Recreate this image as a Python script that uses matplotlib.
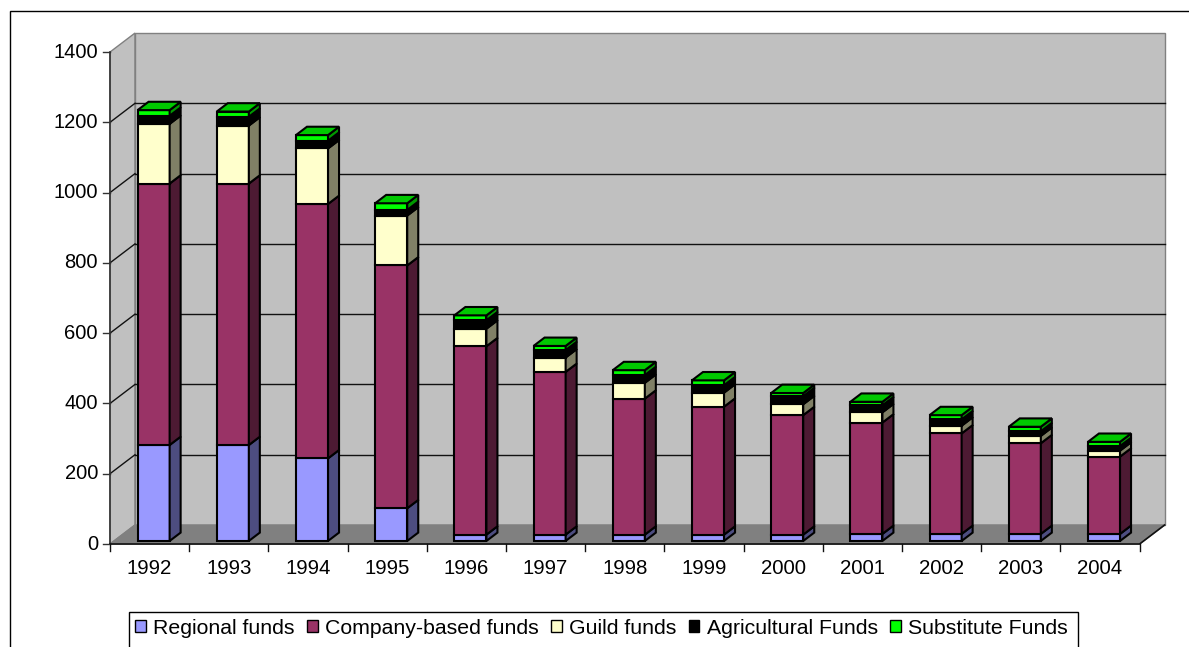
import numpy as np
import matplotlib.pyplot as plt
from matplotlib.patches import Patch, Rectangle

plt.rcParams['font.family'] = ['Liberation Sans', 'DejaVu Sans']

years = ['1992', '1993', '1994', '1995', '1996', '1997', '1998',
         '1999', '2000', '2001', '2002', '2003', '2004']
regional = [273, 273, 235, 93, 18, 18, 18, 18, 18, 20, 20, 20, 20]
company = [744, 744, 724, 691, 536, 463, 387, 364, 340, 317, 286, 258, 220]
guild = [170, 165, 158, 142, 50, 41, 45, 40, 31, 29, 22, 21, 17]
agricultural = [23, 25, 22, 16, 24, 21, 22, 21, 23, 20, 18, 13, 13]
substitute = [16, 15, 16, 19, 14, 12, 14, 14, 9, 10, 12, 13, 12]

series = [regional, company, guild, agricultural, substitute]
names = ['Regional funds', 'Company-based funds', 'Guild funds',
         'Agricultural Funds', 'Substitute Funds']
front_col = ['#9999FF', '#993366', '#FFFFCC', '#000000', '#00FF00']
side_col = ['#4D4D80', '#4D1A33', '#808066', '#000000', '#009900']
top_col = ['#7A7ACC', '#7A2952', '#CCCCA3', '#000000', '#00C800']

W, H = 1189, 647
fig = plt.figure(figsize=(W / 100, H / 100), dpi=100)
ax = fig.add_axes([0, 0, 1, 1])
ax.axis('off')

# pixel mapping: front axis at x=110, slot 79.2 px, y=0 at 544, 0.3514 px/unit
SX, SY = 79.2, 0.3514
ax.set_xlim(-110 / SX - 0.5, (W - 110) / SX - 0.5)
ax.set_ylim(-(H - 544) / SY, 544 / SY)

n = len(years)
DX, DY = 25 / SX, 19 / SY          # depth of the 3d box
YMAX = 1400
x0, x1 = -0.5, n - 0.5

# walls and floor
ax.fill([x0, x0 + DX, x0 + DX, x0], [0, DY, YMAX + DY, YMAX],
        color='#C0C0C0', ec='#808080', lw=1, zorder=0)
ax.fill([x0 + DX, x1 + DX, x1 + DX, x0 + DX], [DY, DY, YMAX + DY, YMAX + DY],
        color='#C0C0C0', ec='#808080', lw=1, zorder=0)
ax.fill([x0, x1, x1 + DX, x0 + DX], [0, 0, DY, DY],
        color='#808080', ec='#808080', lw=1, zorder=1)

ticks = np.arange(0, YMAX + 1, 200)
for v in ticks[1:-1]:
    ax.plot([x0 + DX, x1 + DX], [v + DY, v + DY], color='#111111', lw=1, zorder=1)
    ax.plot([x0, x0 + DX], [v, v + DY], color='#111111', lw=1, zorder=1)

# axes lines
ax.plot([x0, x0], [0, YMAX], color='#333333', lw=1.2, zorder=2)
ax.plot([x0, x1, x1 + DX], [0, 0, DY], color='#111111', lw=1.2, zorder=2)
for v in ticks:
    ax.plot([x0 - 7 / SX, x0], [v, v], color='#333333', lw=1, zorder=2)
    ax.text(x0 - 12 / SX, v, str(v), ha='right', va='center', fontsize=14.5)
for i in range(n + 1):
    ax.plot([i - 0.5, i - 0.5], [0, -7 / SY], color='#111111', lw=1, zorder=2)
for i, y in enumerate(years):
    ax.text(i, -24 / SY, y, ha='center', va='center', fontsize=14.7)

# stacked 3d bars
f0, fd, bw = 0.16, 0.44, 0.405
xs = np.arange(n) + f0 * DX
bottom = np.full(n, f0 * DY)
for k, vals in enumerate(series):
    vals = np.array(vals, dtype=float)
    ax.bar(xs, vals, bottom=bottom, width=bw, color=front_col[k],
           edgecolor='black', linewidth=1.5, zorder=4)
    for i in range(n):
        xr = xs[i] + bw / 2
        b, t = bottom[i], bottom[i] + vals[i]
        ax.fill([xr, xr + fd * DX, xr + fd * DX, xr],
                [b, b + fd * DY, t + fd * DY, t],
                color=side_col[k], ec='black', lw=1.5, zorder=4)
    bottom = bottom + vals

for i in range(n):
    xl, xr, t = xs[i] - bw / 2, xs[i] + bw / 2, bottom[i]
    ax.fill([xl, xr, xr + fd * DX, xl + fd * DX],
            [t, t, t + fd * DY, t + fd * DY],
            color=top_col[-1], ec='black', lw=1.5, zorder=4)

# outer chart frame and legend box
fig.patches.append(Rectangle((10 / W, -0.1), 1.1, 1 - 11 / H + 0.1,
                             transform=fig.transFigure, fill=False,
                             ec='black', lw=1))
fig.patches.append(Rectangle((129 / W, -0.1), (1078 - 129) / W, 1 - 612 / H + 0.1,
                             transform=fig.transFigure, fill=False,
                             ec='black', lw=1))
handles = [Patch(facecolor=c, edgecolor='black', lw=1) for c in front_col]
fig.legend(handles, names, loc='center left',
           bbox_to_anchor=(135 / W, 1 - 628 / H), ncol=5, frameon=False,
           fontsize=15.3, handlelength=0.5, handleheight=0.5,
           handletextpad=0.35, columnspacing=0.58, borderpad=0, borderaxespad=0)

fig.savefig('out.png', dpi=100)
